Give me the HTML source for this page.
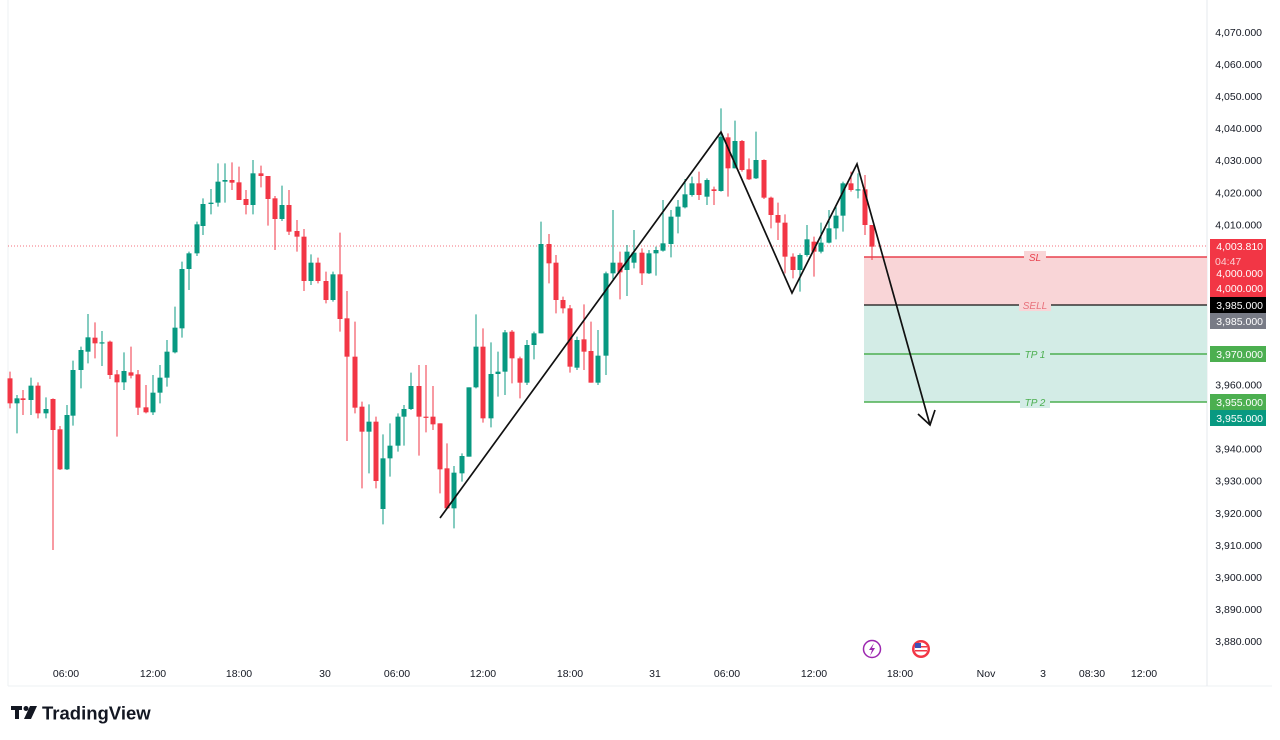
<!DOCTYPE html>
<html><head><meta charset="utf-8"><style>
html,body{margin:0;padding:0;background:#fff;width:1280px;height:740px;overflow:hidden}
svg{display:block}
text{font-family:"Liberation Sans",sans-serif}
</style></head><body>
<svg id="s" width="1280" height="740" xmlns="http://www.w3.org/2000/svg">
<rect x="0" y="0" width="1280" height="740" fill="#fff"/>
<line x1="8" y1="0" x2="8" y2="686" stroke="#eef0f3"/>
<line x1="8" y1="686" x2="1272" y2="686" stroke="#eef0f3"/>
<line x1="1207" y1="0" x2="1207" y2="686" stroke="#e6e8ee"/>
<rect x="864" y="257" width="343" height="48" fill="#f9d5d7"/>
<rect x="864" y="305" width="343" height="97" fill="#d3ece6"/>
<line x1="8" y1="246" x2="1207" y2="246" stroke="#f23645" stroke-width="1" stroke-dasharray="1,2" opacity="0.7"/>
<g id="candles"></g>
<line x1="864" y1="257" x2="1207" y2="257" stroke="#e8424f" stroke-width="1.5"/>
<line x1="864" y1="305" x2="1207" y2="305" stroke="#111" stroke-width="1.2"/>
<line x1="864" y1="354" x2="1207" y2="354" stroke="#4caf50" stroke-width="1.5"/>
<line x1="864" y1="402" x2="1207" y2="402" stroke="#4caf50" stroke-width="1.5"/>
<g font-size="10" font-style="italic" text-anchor="middle">
<rect x="1024" y="251" width="22" height="12" fill="#f9d5d7"/>
<text x="1035" y="261" fill="#e8424f">SL</text>
<rect x="1019" y="299" width="32" height="12" fill="#f9d5d7"/>
<text x="1035" y="309" fill="#e8727c">SELL</text>
<rect x="1020" y="348" width="30" height="12" fill="#d3ece6"/>
<text x="1035" y="358" fill="#4caf50">TP 1</text>
<rect x="1020" y="396" width="30" height="12" fill="#d3ece6"/>
<text x="1035" y="406" fill="#4caf50">TP 2</text>
</g>
<polyline points="440,518 721,132 792,293 857,164 930,425" fill="none" stroke="#111" stroke-width="1.7"/>
<polyline points="918,414 930,425 935,410" fill="none" stroke="#111" stroke-width="1.7"/>
<g id="axis" font-size="10.5" fill="#131722" text-anchor="end"></g>
<g font-size="10.5" text-anchor="end">
<rect x="1210" y="239" width="56" height="58" fill="#f23645"/>
<text x="1263" y="250" fill="#fff">4,003.810</text>
<text x="1215" y="265" fill="#fcd0d4" text-anchor="start">04:47</text>
<text x="1263" y="277" fill="#fff">4,000.000</text>
<text x="1263" y="292" fill="#fff">4,000.000</text>
<rect x="1210" y="297" width="56" height="16" fill="#000"/>
<text x="1263" y="309" fill="#fff">3,985.000</text>
<rect x="1210" y="313" width="56" height="16" fill="#787b86"/>
<text x="1263" y="325" fill="#fff">3,985.000</text>
<rect x="1210" y="346" width="56" height="16" fill="#4caf50"/>
<text x="1263" y="358" fill="#fff">3,970.000</text>
<rect x="1210" y="394" width="56" height="16" fill="#4caf50"/>
<text x="1263" y="406" fill="#fff">3,955.000</text>
<rect x="1210" y="410" width="56" height="16" fill="#089981"/>
<text x="1263" y="422" fill="#fff">3,955.000</text>
</g>
<g font-size="10.5" fill="#131722" text-anchor="middle">
<text x="66" y="677">06:00</text><text x="153" y="677">12:00</text><text x="239" y="677">18:00</text>
<text x="325" y="677">30</text><text x="397" y="677">06:00</text><text x="483" y="677">12:00</text>
<text x="570" y="677">18:00</text><text x="655" y="677">31</text><text x="727" y="677">06:00</text>
<text x="814" y="677">12:00</text><text x="900" y="677">18:00</text><text x="986" y="677">Nov</text>
<text x="1043" y="677">3</text><text x="1092" y="677">08:30</text><text x="1144" y="677">12:00</text>
</g>
<circle cx="872" cy="649" r="8.5" fill="#fff" stroke="#9c27b0" stroke-width="1.5"/>
<path d="M874,643 L869,650 L872,650 L870,656 L875,648 L872,648 Z" fill="#9c27b0"/>
<circle cx="921" cy="649" r="9" fill="#f23645"/>
<circle cx="921" cy="649" r="6.5" fill="#fff"/>
<rect x="915" y="646" width="12" height="1.5" fill="#f23645"/><rect x="915" y="650" width="12" height="1.5" fill="#f23645"/>
<rect x="915" y="643" width="6" height="5" fill="#3f51b5"/>
<g fill="#131722">
<rect x="11" y="706" width="11" height="4"/><rect x="15" y="706" width="4" height="13"/>
<circle cx="26" cy="708.5" r="2.5"/>
<polygon points="30,706 37,706 31,719 24,719"/>
</g>
<text x="42" y="719.5" font-size="18.5" font-weight="bold" fill="#131722">TradingView</text>
</svg>
<script>
var NS="http://www.w3.org/2000/svg";
function el(n,a){var e=document.createElementNS(NS,n);for(var k in a)e.setAttribute(k,a[k]);return e;}
var g=document.getElementById('candles');
var z1=[[10,685,760,665,775,'r'],[17,745,760,735,850,'g'],[23,745,750,720,795,'r'],[31,707,750,683,795,'g'],[38,707,790,697,805,'r'],[46,777,790,742,805,'g'],[53,747,840,745,1200,'r'],[60,838,958,828,960,'r'],[67,795,958,765,960,'g'],[73,660,797,632,827,'g'],[81,600,660,590,715,'g'],[88,562,605,492,640,'g'],[95,563,580,517,625,'r'],[102,577,580,543,648,'g'],[110,575,675,572,687,'r'],[117,673,697,660,860,'r'],[124,663,697,607,720,'g'],[131,667,677,590,685,'r'],[138,673,773,660,795,'r'],[146,772,787,705,790,'r'],[153,728,787,675,795,'g'],[160,683,728,645,760,'g'],[167,605,683,570,710,'g'],[175,533,607,470,610,'g'],[182,357,535,335,563,'g'],[189,310,357,305,420,'g'],[197,223,310,215,318,'g'],[203,162,228,145,255,'g'],[211,158,162,117,193,'g'],[218,95,158,40,170,'g'],[225,90,95,40,158,'g'],[232,90,98,37,120,'r'],[239,97,150,50,150,'r'],[246,147,165,120,193,'r'],[253,70,165,30,193,'g'],[261,70,78,47,112,'r'],[268,78,147,78,227,'r'],[275,145,207,138,300,'r'],[282,165,207,107,213,'g'],[289,165,245,120,255,'r'],[297,243,260,210,305,'r'],[304,260,393,237,423,'r'],[311,338,393,313,405,'g'],[318,338,393,323,400,'r'],[326,393,450,365,460,'r'],[333,373,450,365,455,'g'],[340,373,507,248,545,'r'],[347,505,620,423,873,'r'],[355,620,773,515,790,'r'],[362,770,845,755,1015,'r'],[369,815,845,763,970,'g'],[376,815,993,800,1015,'r'],[383,925,1077,853,1123,'g'],[390,887,925,820,980,'g'],[398,800,887,790,905,'g'],[404,777,800,765,887,'g'],[411,708,777,668,780,'g'],[419,708,800,645,917,'r'],[426,800,803,645,847,'r'],[433,800,823,708,840,'r']];
var z2=[[440,970,1108,970,1180,'r'],[447,1105,1225,1030,1225,'r'],[454,1118,1225,1098,1285,'g'],[462,1068,1120,1060,1145,'g'],[469,862,1070,862,1070,'g'],[476,740,862,643,865,'g'],[483,740,955,685,968,'r'],[491,822,955,727,982,'g'],[498,815,822,755,890,'g'],[505,697,815,690,885,'g'],[512,695,775,690,850,'r'],[520,775,848,770,895,'r'],[527,735,848,720,855,'g'],[534,700,735,695,778,'g'],[541,432,700,365,700,'g'],[549,432,490,402,550,'r'],[556,488,600,465,640,'r'],[563,600,625,590,640,'r'],[570,625,800,615,818,'r'],[577,720,803,710,810,'g'],[584,718,755,613,810,'r'],[591,753,848,665,848,'r'],[598,767,848,690,855,'g'],[606,520,767,515,825,'g'],[613,488,520,330,540,'g'],[620,488,517,455,598,'r'],[627,455,510,435,588,'g'],[634,458,488,390,505,'g'],[642,458,520,445,555,'r'],[649,460,520,450,522,'g'],[656,450,460,440,527,'g'],[663,430,452,300,455,'g'],[671,350,432,330,472,'g'],[678,320,350,300,400,'g'],[685,283,322,237,325,'g'],[692,250,285,230,290,'g'],[699,250,285,215,300,'r'],[707,240,290,235,315,'g'],[714,268,273,260,315,'r'],[721,110,273,25,275,'g'],[728,112,205,100,290,'r'],[735,123,205,62,205,'g'],[742,123,210,120,215,'r'],[749,208,238,175,240,'r'],[756,180,235,95,237,'g'],[764,180,293,178,297,'r'],[771,293,345,290,385,'r'],[778,345,368,308,420,'r'],[785,368,470,343,520,'r'],[793,470,510,460,535,'r'],[800,465,510,460,575,'g'],[807,418,465,375,470,'g'],[814,425,455,410,530,'r'],[821,428,455,368,460,'g'],[829,385,428,330,430,'g'],[836,347,385,320,418,'g'],[843,250,347,245,395,'g'],[851,250,270,215,275,'r'],[858,268,270,220,295,'g'],[865,268,375,225,405,'r'],[872,375,440,375,480,'r']];
function draw(arr,oy){arr.forEach(function(c){var col=c[5]=='g'?'#089981':'#f23645';
var bt=oy+c[1]/3,bb=oy+c[2]/3,wt=oy+c[3]/3,wb=oy+c[4]/3;
g.appendChild(el('line',{x1:c[0],x2:c[0],y1:wt,y2:wb,stroke:col,'stroke-width':1}));
g.appendChild(el('rect',{x:c[0]-2.5,y:bt,width:5,height:Math.max(1.2,bb-bt),fill:col}));});}
draw(z1,150);draw(z2,100);
var ax=document.getElementById('axis');
for(var p=4070;p>=3880;p-=10){if([4000,3990,3980,3970,3950].indexOf(p)>=0)continue;
var y=32+(4070-p)*3.205;var t=el('text',{x:1262,y:y+4});t.textContent=p.toLocaleString('en-US')+'.000';
ax.appendChild(t);}
</script>
</body></html>
